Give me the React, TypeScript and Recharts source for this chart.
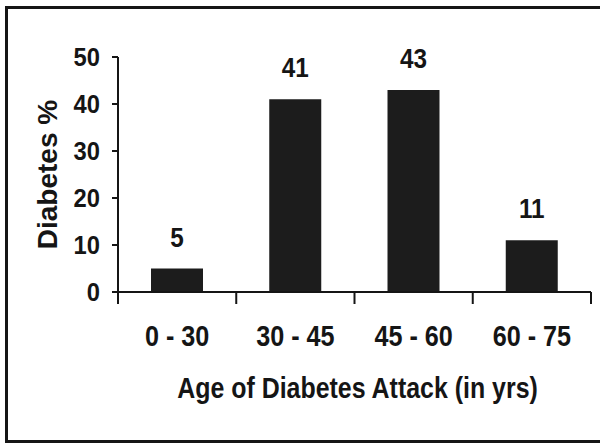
import React from "react";
import { BarChart, Bar, XAxis, YAxis, LabelList, Label } from "recharts";

const ageGroups = ["0 - 30", "30 - 45", "45 - 60", "60 - 75"];
const diabetesPct = [5, 41, 43, 11];
const yTicks = [0, 10, 20, 30, 40, 50];

const data = ageGroups.map((age, i) => ({ age, pct: diabetesPct[i] }));

const FONT = "'Liberation Sans', Arial, sans-serif";
const INK = "#151515";

const CHART_W = 600;
const CHART_H = 444;
const MARGIN = { top: 57, right: 9, left: 28, bottom: 32 };
const Y_AXIS_W = 90;
const BAND = (CHART_W - MARGIN.left - MARGIN.right - Y_AXIS_W) / ageGroups.length;

// the scanned original uses a narrow bold face, so squeeze Liberation Sans Bold horizontally
function NarrowText({ x, y, size, squeeze, anchor = "middle", dy = 0, rotate = 0, children }: any) {
  return (
    <text
      transform={`translate(${x} ${y}) rotate(${rotate}) scale(${squeeze} 1)`}
      x={0}
      y={0}
      dy={dy}
      textAnchor={anchor}
      fill={INK}
      fontFamily={FONT}
      fontWeight="bold"
      fontSize={size}
    >
      {children}
    </text>
  );
}

function AgeTick(props: any) {
  const { x, y, payload, index } = props;
  const left = x - BAND / 2;
  return (
    <g>
      <line x1={left} y1={y} x2={left} y2={y + 12} stroke={INK} strokeWidth={2} />
      {index === ageGroups.length - 1 && (
        <line x1={x + BAND / 2} y1={y} x2={x + BAND / 2} y2={y + 12} stroke={INK} strokeWidth={2} />
      )}
      <NarrowText x={x} y={y + 54} size={30} squeeze={0.84}>
        {payload.value}
      </NarrowText>
    </g>
  );
}

function PctTick(props: any) {
  const { x, y, payload } = props;
  return (
    <NarrowText x={x} y={y} dy="0.36em" size={25} squeeze={0.95} anchor="end">
      {payload.value}
    </NarrowText>
  );
}

function BarValue(props: any) {
  const { x, y, width, value } = props;
  return (
    <NarrowText x={x + width / 2} y={y - 22} size={27} squeeze={0.9}>
      {value}
    </NarrowText>
  );
}

function XTitle(props: any) {
  const { viewBox } = props;
  return (
    <NarrowText x={viewBox.x + viewBox.width / 2 + 3} y={viewBox.y + 106} size={29} squeeze={0.86}>
      Age of Diabetes Attack (in yrs)
    </NarrowText>
  );
}

function YTitle(props: any) {
  const { viewBox } = props;
  return (
    <NarrowText x={viewBox.x + 29} y={viewBox.y + viewBox.height / 2} size={28} squeeze={1} rotate={-90}>
      Diabetes %
    </NarrowText>
  );
}

export default function App() {
  return (
    <div
      style={{
        position: "absolute",
        left: 0,
        top: 0,
        width: CHART_W,
        height: CHART_H,
        background: "#fff",
        overflow: "hidden",
      }}
    >
      <div
        style={{
          position: "absolute",
          left: 5,
          top: 6,
          width: 600,
          height: 431,
          border: `3px solid ${INK}`,
        }}
      />
      <BarChart width={CHART_W} height={CHART_H} data={data} margin={MARGIN}>
        <XAxis
          dataKey="age"
          height={120}
          axisLine={{ stroke: INK, strokeWidth: 2 }}
          tickLine={false}
          tickSize={0}
          tickMargin={0}
          tick={<AgeTick />}
          interval={0}
        >
          <Label content={<XTitle />} />
        </XAxis>
        <YAxis
          width={Y_AXIS_W}
          domain={[0, 50]}
          ticks={yTicks}
          interval={0}
          axisLine={{ stroke: INK, strokeWidth: 2 }}
          tickLine={{ stroke: INK, strokeWidth: 2 }}
          tickSize={6}
          tickMargin={12}
          tick={<PctTick />}
        >
          <Label content={<YTitle />} />
        </YAxis>
        <Bar dataKey="pct" fill="#1c1c1c" barSize={52} isAnimationActive={false}>
          <LabelList dataKey="pct" content={<BarValue />} />
        </Bar>
      </BarChart>
    </div>
  );
}
